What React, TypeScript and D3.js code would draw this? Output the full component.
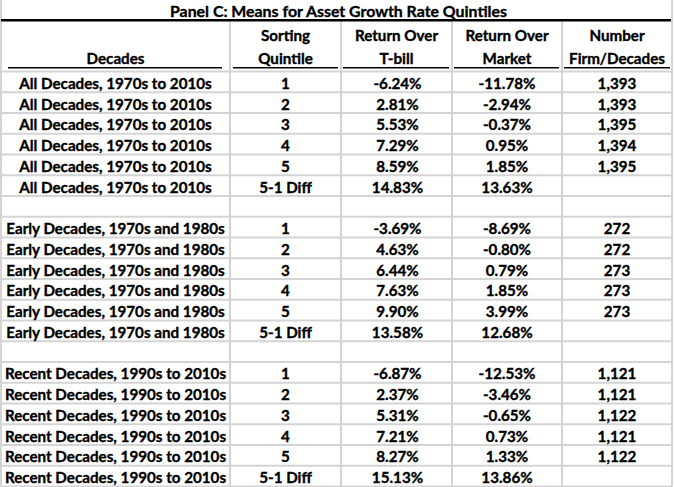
import React from 'react';
import * as d3 from 'd3';

const title = 'Panel C: Means for Asset Growth Rate Quintiles';
const headerLine1 = ['', 'Sorting', 'Return Over', 'Return Over', 'Number'];
const headerLine2 = ['Decades', 'Quintile', 'T-bill', 'Market', 'Firm/Decades'];
const groups = ['All Decades, 1970s to 2010s', 'Early Decades, 1970s and 1980s', 'Recent Decades, 1990s to 2010s'];
const quintiles = ['1', '2', '3', '4', '5', '5-1 Diff'];
const returnOverTbill = [
  [-6.24, 2.81, 5.53, 7.29, 8.59, 14.83],
  [-3.69, 4.63, 6.44, 7.63, 9.9, 13.58],
  [-6.87, 2.37, 5.31, 7.21, 8.27, 15.13],
];
const returnOverMarket = [
  [-11.78, -2.94, -0.37, 0.95, 1.85, 13.63],
  [-8.69, -0.8, 0.79, 1.85, 3.99, 12.68],
  [-12.53, -3.46, -0.65, 0.73, 1.33, 13.86],
];
const numberFirmDecades = [
  [1393, 1393, 1395, 1394, 1395, null],
  [272, 272, 273, 273, 273, null],
  [1121, 1121, 1122, 1121, 1122, null],
];

const W = 674;
const H = 487;
const colEdges = [1, 230, 341, 452, 562, 672];
const FONT = 'Lato, "Liberation Sans", sans-serif';
const FS = 15.2;
const TS = 0.35;
const GRID = '#d4d4d4';

const locale = d3.formatLocale({ decimal: '.', thousands: ',', grouping: [3], currency: ['$', ''], minus: '-' });
const pct = (v: number) => locale.format('.2f')(v) + '%';
const num = locale.format(',');

type Row = { cells: string[] } | null;

export default function App() {
  const rows: Row[] = [];
  groups.forEach((g, gi) => {
    quintiles.forEach((q, qi) => {
      const n = numberFirmDecades[gi][qi];
      rows.push({
        cells: [g, q, pct(returnOverTbill[gi][qi]), pct(returnOverMarket[gi][qi]), n == null ? '' : num(n)],
      });
    });
    if (gi < groups.length - 1) rows.push(null);
  });

  const y = d3.scaleLinear().domain([0, rows.length]).range([71.5, 486.5]);
  const colCenter = (i: number) => (colEdges[i] + colEdges[i + 1]) / 2;
  const underline = [
    [8, 222],
    [233, 338],
    [343, 449],
    [454, 559],
    [564, 670],
  ];
  const textProps = {
    fontFamily: FONT,
    fontWeight: 'bold' as const,
    fontSize: FS,
    fill: '#000',
    stroke: '#000',
    strokeWidth: TS,
    textAnchor: 'middle' as const,
  };

  return (
    <svg width={W} height={H} style={{ position: 'absolute', left: 0, top: 0, background: '#fff' }}>
      <rect x={0} y={0} width={W} height={H} fill="#fff" />
      {d3.range(rows.length + 1).map((i) => (
        <line key={'h' + i} x1={colEdges[0]} x2={colEdges[5]} y1={y(i)} y2={y(i)} stroke={GRID} strokeWidth={2} />
      ))}
      {colEdges.map((x, i) => (
        <line
          key={'v' + i}
          x1={x}
          x2={x}
          y1={i === 0 || i === colEdges.length - 1 ? 0 : 21}
          y2={y(rows.length)}
          stroke={GRID}
          strokeWidth={2}
        />
      ))}
      <text {...textProps} x={338.5} y={16.5} fontSize={16} textLength={337} lengthAdjust="spacingAndGlyphs">
        {title}
      </text>
      <line x1={1} x2={671} y1={20.3} y2={20.3} stroke="#000" strokeWidth={2.5} />
      {headerLine1.map((t, i) => (
        <text key={'hl1' + i} {...textProps} x={colCenter(i)} y={40.5}>
          {t}
        </text>
      ))}
      {headerLine2.map((t, i) => (
        <text key={'hl2' + i} {...textProps} x={colCenter(i)} y={64}>
          {t}
        </text>
      ))}
      {underline.map(([a, b], i) => (
        <line key={'u' + i} x1={a} x2={b} y1={67.8} y2={67.8} stroke="#000" strokeWidth={1.5} />
      ))}
      {rows.map((r, ri) =>
        r == null
          ? null
          : r.cells.map((c, ci) => (
              <text key={'c' + ri + '-' + ci} {...textProps} x={colCenter(ci) + (ci === 2 ? 1 : 0)} y={y(ri + 1) - 3.3}>
                {c}
              </text>
            ))
      )}
    </svg>
  );
}
